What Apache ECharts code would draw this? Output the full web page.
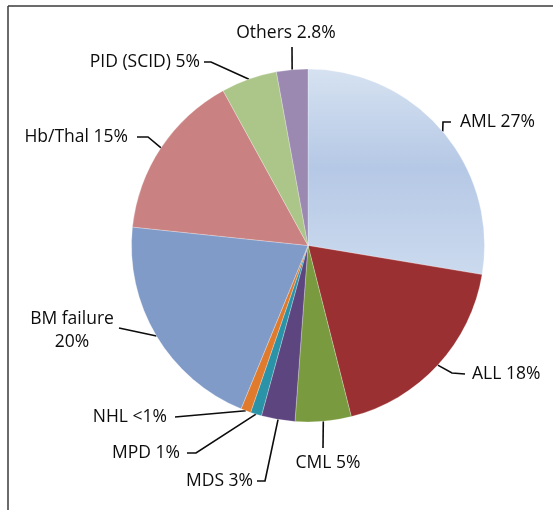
<!DOCTYPE html>
<html>
<head>
<meta charset="utf-8">
<title>Disease indications</title>
<script src="https://cdn.jsdelivr.net/npm/echarts@6/dist/echarts.min.js"></script>
<style>
  html, body { margin: 0; padding: 0; background: #ffffff; }
  #chart { width: 553px; height: 510px; }
</style>
</head>
<body>
<div id="chart"></div>
<script>
// Slices, clockwise from 12 o'clock
const categories = ['AML', 'ALL', 'CML', 'MDS', 'MPD', 'NHL', 'BM failure', 'Hb/Thal', 'PID (SCID)', 'Others'];
const shares = [27, 18, 5, 3, 1, 0.9, 20, 15, 5, 2.8];
// Names whose percentage goes on a second line
const wrappedNames = ['BM failure'];

const sliceColors = [
  null, // gradient, set below
  '#9b3033', '#7a9a3f', '#5d4580', '#2a93a8', '#e07b2d',
  '#809bc8', '#c98181', '#acc589', '#9c89b1'
];

const amlFill = {
  type: 'linear', x: 0, y: 0, x2: 0, y2: 1,
  colorStops: [
    { offset: 0, color: '#d6e2f1' },
    { offset: 0.48, color: '#b5c8e5' },
    { offset: 1, color: '#cbdaee' }
  ]
};

// Label anchors and leader-line bends
const labelSpots = [
  { x: 460, y: 122, align: 'left',   bends: [[443, 122], [451, 122]] },
  { x: 472, y: 374, align: 'left',   bends: [[452, 373], [465, 374]] },
  { x: 328, y: 463, align: 'center', bends: [[323, 448]] },
  { x: 253, y: 481, align: 'right',  bends: [[265, 481], [257, 481]] },
  { x: 180, y: 453, align: 'right',  bends: [[196, 453], [187, 453]] },
  { x: 167, y: 417, align: 'right',  bends: [[175, 417]] },
  { x: 72,  y: 331, align: 'center', bends: [[119, 328]] },
  { x: 128, y: 137, align: 'right',  bends: [[148, 137], [137, 137]] },
  { x: 200, y: 62,  align: 'right',  bends: [[211, 62], [204, 62]] },
  { x: 286, y: 33,  align: 'center', bends: [[292, 47]] }
];

const chart = echarts.init(document.getElementById('chart'), null, { renderer: 'canvas' });

const seriesData = categories.map(function (name, i) {
  return {
    name: name,
    value: shares[i],
    itemStyle: { color: i === 0 ? amlFill : sliceColors[i] }
  };
});

chart.setOption({
  animation: false,
  backgroundColor: '#ffffff',
  graphic: [
    { type: 'line', shape: { x1: 8, y1: 6, x2: 8, y2: 510 }, style: { stroke: '#3a3a3a', lineWidth: 1.5 } },
    { type: 'line', shape: { x1: 8, y1: 6, x2: 553, y2: 6 }, style: { stroke: '#3a3a3a', lineWidth: 1.5 } }
  ],
  series: [{
    type: 'pie',
    center: [308, 245.5],
    radius: [0, 176.5],
    startAngle: 90,
    clockwise: true,
    avoidLabelOverlap: false,
    emphasis: { disabled: true },
    itemStyle: { borderColor: 'rgba(255,255,255,0.5)', borderWidth: 0.5 },
    label: {
      show: true,
      position: 'outside',
      fontFamily: '"Open Sans", sans-serif',
      fontSize: 17.5,
      lineHeight: 23,
      color: '#0d0c0c',
      formatter: function (p) {
        const pct = p.value < 1 ? '<1' : String(p.value);
        const sep = wrappedNames.indexOf(p.name) >= 0 ? '\n' : ' ';
        return p.name + sep + pct + '%';
      }
    },
    labelLine: {
      show: true,
      length: 10,
      length2: 10,
      lineStyle: { color: '#0d0c0c', width: 1.6 }
    },
    labelLayout: function (params) {
      const spot = labelSpots[params.dataIndex];
      const start = params.labelLinePoints && params.labelLinePoints[0];
      const out = {
        x: spot.x,
        y: spot.y,
        align: spot.align,
        verticalAlign: 'middle'
      };
      if (start) {
        out.labelLinePoints = [start].concat(spot.bends);
      }
      return out;
    },
    data: seriesData
  }]
});
</script>
</body>
</html>
